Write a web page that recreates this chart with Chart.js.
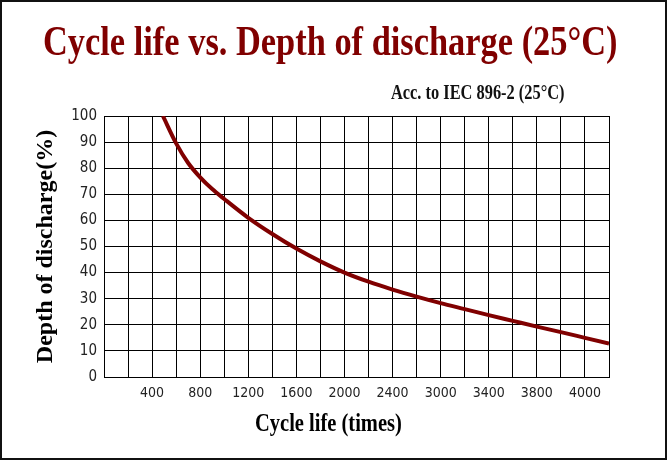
<!DOCTYPE html>
<html>
<head>
<meta charset="utf-8">
<script src="https://cdn.jsdelivr.net/npm/chart.js@4.4.1/dist/chart.umd.min.js"></script>
<style>
  body { margin: 0; background: #fff; }
  #wrap { position: relative; width: 667px; height: 461px; }
  #frame { position: absolute; left: 0; top: 0; width: 667px; height: 460px; box-sizing: border-box; border: 2px solid #111; pointer-events: none; }
  .txt { position: absolute; white-space: nowrap; line-height: 1; font-family: "Liberation Serif", "Times New Roman", serif; font-weight: bold; transform-origin: left top; }
  #title { left: 43px; top: 19px; font-size: 43px; color: #800000; transform: scaleX(0.8); }
  #sub { left: 391px; top: 82px; font-size: 21px; color: #111; transform: scaleX(0.78); }
  #xtitle { left: 255px; top: 410px; font-size: 25px; color: #000; transform: scaleX(0.82); }
</style>
</head>
<body>
<div id="wrap">
  <canvas id="chart" width="667" height="461"></canvas>
  <div class="txt" id="title">Cycle life vs. Depth of discharge (25°C)</div>
  <div class="txt" id="sub">Acc. to IEC 896-2 (25°C)</div>
  <div class="txt" id="xtitle">Cycle life (times)</div>
  <div id="frame"></div>
</div>
<script>
// x is counted in grid columns; labels only sit on every second line
const xTickLabels = ["", "", "400", "", "800", "", "1200", "", "1600", "", "2000", "", "2400", "", "3000", "", "3400", "", "3800", "", "4000", ""];
const curveX = [2.45, 3, 3.5, 4, 4.5, 5, 6, 7, 8, 9, 10, 11, 12, 13, 14, 15, 16, 17, 18, 19, 20, 21];
const curveDod = [100, 89.5, 82, 76.5, 72, 68.2, 61, 54.8, 49.2, 44.3, 40, 36.5, 33.5, 30.8, 28.3, 26, 23.7, 21.5, 19.3, 17.2, 15, 12.8];

const points = curveX.map((x, i) => ({ x: x, y: curveDod[i] }));

new Chart(document.getElementById("chart"), {
  type: "line",
  data: {
    datasets: [{
      data: points,
      borderColor: "#800000",
      borderWidth: 4,
      pointRadius: 0,
      cubicInterpolationMode: "monotone",
      fill: false
    }]
  },
  options: {
    responsive: false,
    animation: false,
    layout: { padding: { top: 116, left: 4, right: 58, bottom: 9 } },
    plugins: { legend: { display: false }, tooltip: { enabled: false } },
    scales: {
      x: {
        type: "linear",
        min: 0,
        max: 21,
        afterFit: s => { s.height = 75; },
        grid: { color: "#000", drawTicks: false },
        border: { color: "#000" },
        ticks: {
          stepSize: 1,
          autoSkip: false,
          maxRotation: 0,
          padding: 8,
          color: "#222",
          font: { family: "'Liberation Sans Narrow', 'DejaVu Sans Condensed', sans-serif", size: 14 },
          callback: v => xTickLabels[v] || ""
        }
      },
      y: {
        min: 0,
        max: 100,
        afterFit: s => { s.width = 100; },
        grid: { color: "#000", drawTicks: false },
        border: { color: "#000" },
        ticks: {
          stepSize: 10,
          padding: 7,
          color: "#222",
          font: { family: "'Liberation Sans Narrow', 'DejaVu Sans Condensed', sans-serif", size: 15 }
        },
        title: {
          display: true,
          text: "Depth of discharge(%)",
          color: "#000",
          padding: { top: 27, bottom: 0 },
          font: { family: "'Liberation Serif', serif", size: 24, weight: "bold" }
        }
      }
    }
  }
});
</script>
</body>
</html>
